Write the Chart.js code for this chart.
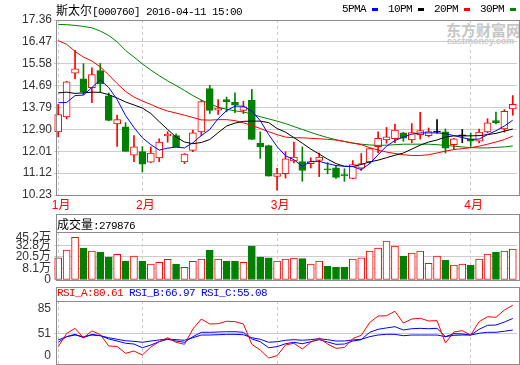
<!DOCTYPE html>
<html>
<head>
<meta charset="utf-8">
<script src="https://cdn.jsdelivr.net/npm/chart.js@4.4.0/dist/chart.umd.min.js"></script>
<style>
html,body{margin:0;padding:0;background:#fff;overflow:hidden;}
#wrap{position:relative;width:520px;height:365px;}
#wrap canvas{position:absolute;left:0;top:0;}
.txt{position:absolute;white-space:nowrap;font-family:"Liberation Mono","DejaVu Sans Mono",monospace;font-size:11px;letter-spacing:-0.6px;line-height:13px;color:#000;}
.cn{font-family:"Noto Sans CJK SC",sans-serif;font-size:12px;letter-spacing:0;}
.wm{position:absolute;color:#c6c6c6;font-weight:bold;white-space:nowrap;}
#legend{position:absolute;right:4px;top:3px;display:flex;align-items:center;}
#legend .it{display:flex;align-items:center;margin-left:10px;}
#legend .dash{display:inline-block;width:6px;height:3px;margin-left:6px;}
</style>
</head>
<body>
<div id="wrap">
<div class="wm" style="left:446px;top:21px;font-family:'Noto Sans CJK SC';font-size:15px;line-height:17px;">东方财富网</div>
<div class="wm" style="left:447px;top:37px;font-family:'Liberation Sans';font-size:9px;line-height:9px;">eastmoney.com</div>
<canvas id="cMain" width="520" height="365"></canvas>
<canvas id="cVol" width="520" height="365"></canvas>
<canvas id="cRsi" width="520" height="365"></canvas>
<div class="txt" id="title" style="left:56px;top:3px;"></div>
<div id="legend"></div>
<div class="txt" id="volHead" style="left:57px;top:217px;"></div>
<div class="txt" id="rsiHead" style="left:57px;top:287px;"></div>
</div>
<script>
// ---------- data ----------
const stockName = '斯太尔';
const stockCode = '000760';
const quoteTime = '15:00';
const dates = [
 '2016-01-18','2016-01-19','2016-01-20','2016-01-21','2016-01-22','2016-01-25','2016-01-26','2016-01-27','2016-01-28','2016-01-29',
 '2016-02-01','2016-02-02','2016-02-03','2016-02-04','2016-02-05','2016-02-15','2016-02-16','2016-02-17','2016-02-18','2016-02-19',
 '2016-02-22','2016-02-23','2016-02-24','2016-02-25','2016-02-26','2016-02-29',
 '2016-03-01','2016-03-02','2016-03-03','2016-03-04','2016-03-07','2016-03-08','2016-03-09','2016-03-10','2016-03-11','2016-03-14',
 '2016-03-15','2016-03-16','2016-03-17','2016-03-18','2016-03-21','2016-03-22','2016-03-23','2016-03-24','2016-03-25','2016-03-28',
 '2016-03-29','2016-03-30','2016-03-31',
 '2016-04-01','2016-04-05','2016-04-06','2016-04-07','2016-04-08','2016-04-11'];
const opens  = [12.80,13.41,15.19,14.96,14.60,15.30,14.27,13.13,13.01,11.85,12.00,11.57,11.74,12.64,12.65,11.58,12.05,12.80,14.57,13.69,14.12,14.01,13.68,14.09,12.35,12.24,10.99,11.10,11.62,11.59,11.51,11.64,11.30,11.34,11.06,10.91,11.32,11.58,12.20,12.47,12.52,12.76,12.47,12.69,12.65,12.79,12.80,12.28,12.64,12.52,12.42,12.80,13.26,12.92,13.74];
const highs  = [13.92,14.86,16.12,15.58,15.41,15.59,14.39,13.49,13.18,12.65,12.20,12.19,12.52,12.81,12.72,11.92,12.88,14.08,14.70,14.12,14.22,14.39,14.05,14.53,12.80,12.26,11.32,11.99,12.39,12.19,11.75,11.94,11.55,11.40,11.30,11.63,11.92,12.13,12.80,12.98,13.12,12.78,13.14,13.60,12.96,13.30,12.92,12.54,12.90,12.76,12.92,13.34,13.61,13.71,14.28];
const lows   = [12.60,13.33,14.96,14.32,13.99,14.43,13.25,12.21,12.01,11.59,11.17,11.55,11.59,12.38,12.19,11.51,12.00,12.65,13.55,13.51,13.62,13.58,13.55,12.49,11.72,11.00,10.43,10.92,11.54,10.79,11.33,10.98,11.09,10.91,10.79,10.90,11.23,11.51,11.94,12.34,12.36,12.42,12.36,12.51,12.60,12.75,11.94,12.08,12.36,12.21,12.35,12.76,13.13,12.79,13.48];
const closes = [13.51,14.84,15.37,14.42,15.14,14.76,13.27,13.30,12.01,12.19,11.49,11.94,12.39,12.71,12.20,11.90,12.76,14.04,13.68,13.77,14.03,13.89,13.82,12.49,12.19,11.00,11.10,11.70,11.78,11.23,11.59,11.78,11.26,10.95,11.02,11.47,11.51,12.12,12.54,12.60,12.87,12.55,12.77,12.85,12.81,12.79,12.14,12.52,12.64,12.42,12.79,13.17,13.17,13.64,13.92];
const ma5  = [13.99,14.00,14.28,14.30,14.61,14.92,14.61,14.12,13.47,12.98,12.56,12.28,12.06,12.14,12.18,12.15,12.36,12.65,12.90,13.34,13.67,13.85,13.85,13.64,13.26,12.69,12.20,11.83,11.67,11.40,11.60,11.60,11.51,11.43,11.40,11.39,11.26,11.51,11.87,12.22,12.45,12.59,12.71,12.76,12.76,12.76,12.73,12.65,12.57,12.49,12.51,12.69,12.85,13.04,13.28];
const ma10 = [14.39,14.42,14.37,14.39,14.42,14.41,14.32,14.18,14.02,13.90,13.77,13.55,13.22,12.90,12.59,12.39,12.32,12.37,12.49,12.77,13.04,13.16,13.23,13.24,13.24,13.18,12.94,12.79,12.57,12.34,12.10,11.90,11.69,11.51,11.40,11.39,11.47,11.58,11.65,11.75,11.85,11.94,12.10,12.26,12.39,12.47,12.59,12.64,12.64,12.64,12.65,12.69,12.74,12.83,12.92];
const ma20 = [16.52,16.37,16.08,15.85,15.69,15.45,15.12,14.77,14.45,14.22,14.06,13.92,13.77,13.65,13.57,13.48,13.39,13.29,13.28,13.30,13.30,13.26,13.17,13.06,12.94,12.81,12.69,12.59,12.56,12.56,12.54,12.52,12.50,12.47,12.41,12.34,12.28,12.16,12.06,11.98,11.92,11.87,11.84,11.84,11.87,11.94,12.02,12.08,12.12,12.16,12.22,12.30,12.39,12.49,12.63];
const ma30 = [17.18,17.17,17.14,17.10,17.04,16.91,16.73,16.47,16.12,15.85,15.57,15.32,15.09,14.88,14.69,14.49,14.28,14.10,13.94,13.81,13.72,13.66,13.61,13.53,13.42,13.33,13.24,13.14,13.02,12.90,12.78,12.67,12.57,12.48,12.41,12.35,12.30,12.27,12.25,12.26,12.28,12.30,12.30,12.30,12.30,12.28,12.25,12.22,12.19,12.16,12.15,12.15,12.17,12.19,12.23];
const maNames = ['5PMA','10PM','20PM','30PM'];
// volume in 万手
const volumes = [20.1,27.1,38.5,28.9,26.2,25.3,20.8,23.2,17.2,21.7,17.2,14.4,16.0,18.7,14.4,11.4,16.9,19.0,27.1,19.0,17.2,17.2,16.0,30.7,20.8,20.1,17.2,19.0,19.9,19.3,14.4,17.2,12.6,11.7,11.7,19.0,20.1,26.2,28.9,35.2,30.7,21.7,24.4,26.2,15.1,21.7,18.1,13.5,14.4,13.5,19.0,23.5,25.3,26.2,27.9876];
const rsiA = [37.9,51.5,56.8,47.1,54.1,50.4,38.6,38.1,31.0,33.4,29.3,37.5,43.0,47.1,42.4,40.3,56.1,66.4,61.3,61.6,64.1,63.7,61.3,40.3,34.4,26.2,28.6,39.6,41.4,35.5,42.4,46.8,40.6,36.2,37.0,46.3,49.6,62.8,69.5,69.8,74.4,62.3,66.4,67.2,64.4,64.7,41.7,53.0,54.4,49.9,63.7,68.8,68.2,75.7,80.61];
const rsiB = [42.4,48.2,50.6,47.1,50.6,49.2,45.8,43.7,41.4,40.6,36.8,39.6,43.0,45.5,43.7,42.4,48.2,52.7,52.7,53.0,53.3,53.3,52.7,45.8,43.0,36.8,37.9,40.9,42.4,40.9,43.0,45.1,42.7,40.3,40.6,43.7,45.1,52.7,55.8,57.2,58.5,55.1,56.4,56.8,56.4,56.8,48.2,51.3,51.0,49.9,55.8,59.9,60.2,63.3,66.97];
const rsiC = [44.8,48.2,49.9,48.2,49.9,49.2,47.1,45.5,44.0,43.4,42.4,43.7,44.8,45.8,45.1,44.5,47.1,49.9,49.9,50.2,50.6,50.6,50.2,47.1,45.5,42.4,43.0,44.5,45.1,44.5,45.1,46.1,45.1,43.7,43.7,44.8,45.5,48.2,49.9,50.6,50.6,49.2,49.9,49.9,49.9,49.9,48.2,49.6,49.9,49.9,51.7,52.7,52.7,53.8,55.08];
const priceTicks = [10.23,11.12,12.01,12.90,13.79,14.69,15.58,16.47,17.36];
const volTickValues = [0,10.6,20.8,31.0,38.2];
const volTickLabels = ['0','8.1万','20.5万','32.8万','45.2万'];
const rsiTickValues = [28.3,51,76.7];
const rsiTickLabels = ['0','51','85'];

// ---------- styles ----------
const RED='#ff0000', GREEN='#008000', BLUE='#0000ff', BLACK='#000000';
const GRID='#cccccc', FRAME='#8c8c8c', NONE='rgba(0,0,0,0)';
Chart.defaults.font.family = '"Liberation Sans","Noto Sans CJK SC",sans-serif';
Chart.defaults.font.size = 12;
Chart.defaults.color = '#333333';

const last = dates.length - 1;
const isMonthStart = i => i === 0 || dates[i].slice(5,7) !== dates[i-1].slice(5,7);
const candleColor = i => closes[i] > opens[i] ? RED : (closes[i] < opens[i] ? GREEN : BLACK);

const frame = {
  id: 'frame',
  afterDraw(chart, args, opts) {
    const {ctx, chartArea: a} = chart;
    ctx.save();
    ctx.strokeStyle = FRAME; ctx.lineWidth = 1;
    const L = a.left + 2.5, R = a.right + 2.5, T = a.top + 0.5, B = a.bottom + 0.5;
    const HT = opts.headerTop != null ? opts.headerTop + 0.5 : T;
    ctx.strokeRect(L, HT, R - L, B - HT);
    if (opts.headerTop != null) {
      ctx.beginPath(); ctx.moveTo(L, T); ctx.lineTo(R, T); ctx.stroke();
    }
    ctx.restore();
  }
};

const fitY = s => { s.width = 54; s.paddingTop = 0; s.paddingBottom = 0; };
const xAxis = (showLabels) => ({
  offset: true,
  grid: { offset: false, drawTicks: false, color: c => isMonthStart(c.index) ? GRID : NONE, lineWidth: 1 },
  border: { display: false, dash: [3, 3] },
  ticks: {
    display: showLabels, autoSkip: false, maxRotation: 0, padding: 3, color: RED, labelOffset: 3,
    callback: (v, i) => isMonthStart(i) ? (parseInt(dates[i].slice(5,7), 10) + '月') : ''
  },
  afterFit: s => { s.height = showLabels ? 20 : 0; s.paddingLeft = 0; s.paddingRight = 0; }
});
const baseOpts = {
  responsive: false, animation: false, events: [],
  plugins: { legend: { display: false }, tooltip: { enabled: false } }
};
const lineStyle = { type: 'line', borderWidth: 1, pointRadius: 0, tension: 0, fill: false, order: 0 };

// ---------- main price chart ----------
new Chart(document.getElementById('cMain'), {
  type: 'bar',
  data: {
    labels: dates,
    datasets: [
      { ...lineStyle, label: maNames[0], data: ma5,  borderColor: BLUE },
      { ...lineStyle, label: maNames[1], data: ma10, borderColor: BLACK },
      { ...lineStyle, label: maNames[2], data: ma20, borderColor: RED },
      { ...lineStyle, label: maNames[3], data: ma30, borderColor: GREEN },
      { type: 'bar', label: 'body', data: opens.map((o, i) => [o, closes[i]]),
        backgroundColor: dates.map((d, i) => closes[i] > opens[i] ? '#ffffff' : candleColor(i)),
        borderColor: dates.map((d, i) => candleColor(i)),
        borderWidth: 1, borderSkipped: false, barThickness: 7, minBarLength: 1, grouped: false, order: 1 },
      { type: 'bar', label: 'wick', data: lows.map((l, i) => [l, highs[i]]),
        backgroundColor: dates.map((d, i) => candleColor(i)),
        borderWidth: 0, barThickness: 1, grouped: false, order: 2 }
    ]
  },
  options: {
    ...baseOpts,
    layout: { padding: { left: 0, right: 3, top: 20, bottom: 150 } },
    scales: {
      x: xAxis(true),
      y: {
        min: priceTicks[0], max: priceTicks[priceTicks.length - 1],
        afterBuildTicks: s => { s.ticks = priceTicks.map(v => ({ value: v })); },
        ticks: { padding: 2, autoSkip: false, color: '#333333', callback: v => Number(v).toFixed(2) },
        grid: { drawTicks: false, color: GRID },
        border: { display: false },
        afterFit: fitY
      }
    },
    plugins: { ...baseOpts.plugins, frame: {} }
  },
  plugins: [frame]
});

// ---------- volume chart ----------
new Chart(document.getElementById('cVol'), {
  type: 'bar',
  data: {
    labels: dates,
    datasets: [{
      label: '成交量', data: volumes,
      backgroundColor: dates.map((d, i) => closes[i] >= opens[i] ? '#ffffff' : GREEN),
      borderColor: dates.map((d, i) => closes[i] >= opens[i] ? RED : GREEN),
      borderWidth: 1, borderSkipped: false, barThickness: 7
    }]
  },
  options: {
    ...baseOpts,
    layout: { padding: { left: 0, right: 3, top: 232, bottom: 85 } },
    scales: {
      x: xAxis(false),
      y: {
        min: 0, max: 43.4,
        afterBuildTicks: s => { s.ticks = volTickValues.map(v => ({ value: v })); },
        ticks: { padding: 3, autoSkip: false, color: '#333333', callback: (v, i) => volTickLabels[i] },
        grid: { drawTicks: false, color: c => (c.index > 0 && c.index < 4) ? GRID : NONE },
        border: { display: false },
        afterFit: fitY
      }
    },
    plugins: { ...baseOpts.plugins, frame: { headerTop: 214 } }
  },
  plugins: [frame]
});

// ---------- RSI chart ----------
new Chart(document.getElementById('cRsi'), {
  type: 'line',
  data: {
    labels: dates,
    datasets: [
      { ...lineStyle, label: 'RSI_A', data: rsiA, borderColor: RED },
      { ...lineStyle, label: 'RSI_B', data: rsiB, borderColor: BLUE },
      { ...lineStyle, label: 'RSI_C', data: rsiC, borderColor: BLUE }
    ]
  },
  options: {
    ...baseOpts,
    layout: { padding: { left: 0, right: 3, top: 301, bottom: 1 } },
    scales: {
      x: xAxis(false),
      y: {
        min: 20, max: 85,
        afterBuildTicks: s => { s.ticks = rsiTickValues.map(v => ({ value: v })); },
        ticks: { padding: 3, autoSkip: false, color: '#333333', callback: (v, i) => rsiTickLabels[i] },
        grid: { drawTicks: false, color: c => c.index === 1 ? GRID : NONE },
        border: { display: false },
        afterFit: fitY
      }
    },
    plugins: { ...baseOpts.plugins, frame: { headerTop: 287 } }
  },
  plugins: [frame]
});

// ---------- text headers ----------
document.getElementById('title').innerHTML =
  '<span class="cn">' + stockName + '</span>[' + stockCode + '] ' + dates[last] + ' ' + quoteTime;
const maColors = [BLUE, BLACK, RED, GREEN];
document.getElementById('legend').innerHTML = maNames.map((n, k) =>
  '<span class="it"><span class="txt" style="position:static">' + n + '</span><span class="dash" style="background:' + maColors[k] + '"></span></span>').join('');
document.getElementById('volHead').innerHTML =
  '<span class="cn">成交量</span>:' + Math.round(volumes[last] * 10000);
document.getElementById('rsiHead').innerHTML =
  '<span style="color:' + RED + '">RSI_A:' + rsiA[last].toFixed(2) + '</span> ' +
  '<span style="color:' + BLUE + '">RSI_B:' + rsiB[last].toFixed(2) + '</span> ' +
  '<span style="color:' + BLUE + '">RSI_C:' + rsiC[last].toFixed(2) + '</span>';
</script>
</body>
</html>
